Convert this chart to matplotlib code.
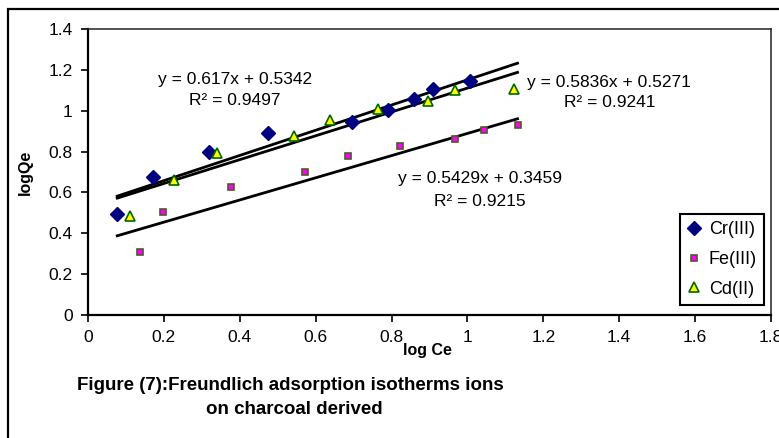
import matplotlib
matplotlib.use("Agg")
import matplotlib.pyplot as plt
from matplotlib.patches import Rectangle

plt.rcParams['font.family'] = ['Liberation Sans', 'DejaVu Sans']

# data
cr_x = [0.077, 0.171, 0.320, 0.474, 0.695, 0.791, 0.860, 0.910, 1.008]
cr_y = [0.493, 0.674, 0.798, 0.889, 0.946, 1.002, 1.057, 1.105, 1.145]
fe_x = [0.138, 0.198, 0.376, 0.572, 0.686, 0.822, 0.967, 1.044, 1.132]
fe_y = [0.310, 0.506, 0.625, 0.702, 0.778, 0.827, 0.862, 0.906, 0.932]
cd_x = [0.111, 0.227, 0.341, 0.542, 0.639, 0.765, 0.895, 0.968, 1.123]
cd_y = [0.485, 0.661, 0.792, 0.876, 0.955, 1.008, 1.049, 1.100, 1.108]

names = ['Cr(III)', 'Fe(III)', 'Cd(II)']
slopes = [0.617, 0.5429, 0.5836]
intercepts = [0.5342, 0.3459, 0.5271]
r2 = [0.9497, 0.9215, 0.9241]

x_ticks = [0, 0.2, 0.4, 0.6, 0.8, 1, 1.2, 1.4, 1.6, 1.8]
y_ticks = [0, 0.2, 0.4, 0.6, 0.8, 1, 1.2, 1.4]

fig = plt.figure(figsize=(7.79, 4.38), dpi=100)
W, H = 779, 438
ax = fig.add_axes([88 / W, 1 - 315 / H, 683 / W, 286 / H])

# outer border of the chart area
fig.patches.append(Rectangle((8 / W, -0.1), 1.2, 1 - 9 / H + 0.1, transform=fig.transFigure,
                             fill=False, edgecolor='black', lw=1.6))

styles = [
    dict(marker='D', ms=7.5, mfc='#000080', mec='#000080'),
    dict(marker='s', ms=5, mfc='#ff00ff', mec='#55552a', mew=1.2),
    dict(marker='^', ms=6.5, mfc='#ffff00', mec='#006400', mew=1.2),
]
series = [(cr_x, cr_y), (fe_x, fe_y), (cd_x, cd_y)]

for (xs, ys), name, st in zip(series, names, styles):
    ax.plot(xs, ys, ls='none', label=name, zorder=3, **st)

# trend lines over the span of all x values
all_x = cr_x + fe_x + cd_x
x0, x1 = min(all_x), max(all_x)
for a, b in zip(slopes, intercepts):
    ax.plot([x0, x1], [a * x0 + b, a * x1 + b], color='black', lw=2.0, zorder=2)

# equation labels
eq_pos = [(0.387, 1.155, 1.052), (1.033, 0.666, 0.558), (1.374, 1.139, 1.039)]
for (px, py1, py2), a, b, r in zip(eq_pos, slopes, intercepts, r2):
    ax.text(px, py1, f'y = {a}x + {b}', ha='center', va='center', fontsize=12.5)
    ax.text(px, py2, f'R² = {r}', ha='center', va='center', fontsize=12.5)

ax.set_xlim(0, 1.8)
ax.set_ylim(0, 1.4)
ax.set_xticks(x_ticks)
ax.set_yticks(y_ticks)
ax.set_xticklabels([f'{t:g}' for t in x_ticks])
ax.set_yticklabels([f'{t:g}' for t in y_ticks])
ax.tick_params(direction='out', length=5, width=1.2, labelsize=12.5, pad=6)

for side in ['left', 'bottom']:
    ax.spines[side].set_linewidth(1.6)
for side in ['top', 'right']:
    ax.spines[side].set_linewidth(1.1)
    ax.spines[side].set_color('#222222')

ax.set_xlabel('log Ce', fontweight='bold', fontsize=11.5, va='center')
ax.xaxis.set_label_coords((427 - 88) / 683, (315 - 351) / 286)
ax.set_ylabel('logQe', fontweight='bold', fontsize=11.5, va='center')
ax.yaxis.set_label_coords((25 - 88) / 683, 0.5)

leg = ax.legend(loc='upper right', bbox_to_anchor=(0.990, 0.353), borderaxespad=0,
                fancybox=False, edgecolor='black', fontsize=13, handlelength=0.8,
                handletextpad=0.4, labelspacing=0.7, borderpad=0.4, framealpha=1)
leg.get_frame().set_linewidth(1.5)

fig.text(290 / W, 1 - 385 / H, 'Figure (7):Freundlich adsorption isotherms ions',
         ha='center', va='center', fontweight='bold', fontsize=13.5)
fig.text(294 / W, 1 - 410 / H, 'on charcoal derived',
         ha='center', va='center', fontweight='bold', fontsize=13.5)

fig.savefig('out.png', dpi=100)
